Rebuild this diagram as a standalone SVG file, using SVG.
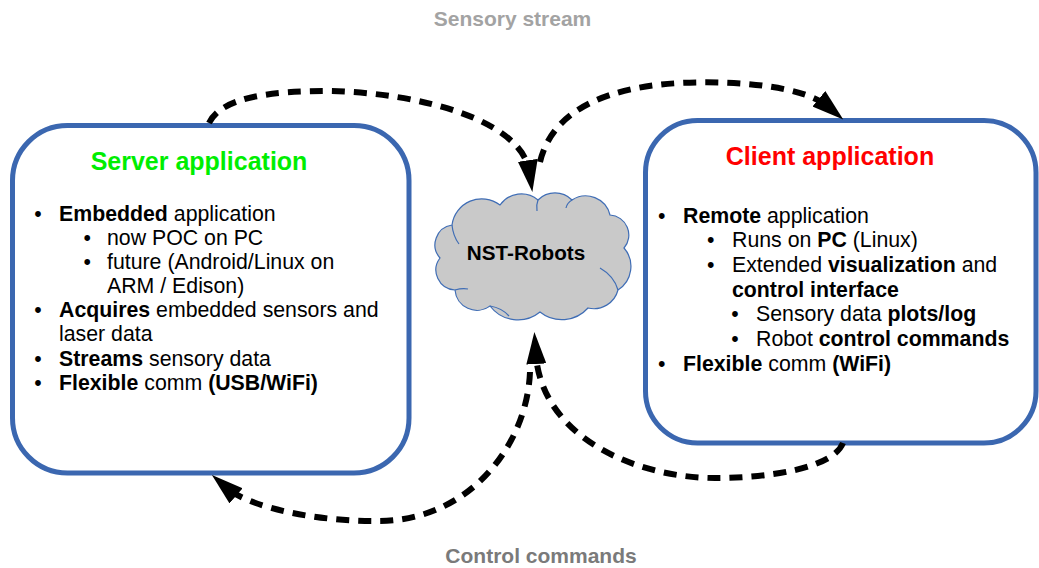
<svg xmlns="http://www.w3.org/2000/svg" width="1039" height="568" viewBox="0 0 1039 568">
<style>
  text { font-family: "Liberation Sans", Arial, sans-serif; }
  .box { fill: #ffffff; stroke: #3b67b0; stroke-width: 5; }
  .title { font-size: 25px; font-weight: bold; text-anchor: middle; }
  .body { font-size: 21.3px; fill: #000000; }
  .b { font-weight: bold; }
  .lbl { font-size: 21px; font-weight: bold; text-anchor: middle; }
  .flow { fill: none; stroke: #000000; stroke-width: 6; stroke-dasharray: 13 9; }
  .cloud { fill: #c9c9c9; stroke: #3f6db5; stroke-width: 1.2; }
  .cloudin { fill: none; stroke: #3f6db5; stroke-width: 1.2; }
</style>
<defs>
  <marker id="ah" markerUnits="userSpaceOnUse" markerWidth="32" markerHeight="20" refX="12" refY="10" orient="auto" viewBox="0 0 32 20">
    <path d="M0,0 L32,10 L0,20 Z" fill="#000000"/>
  </marker>
</defs>

<text class="lbl" x="512.5" y="26" fill="#a3a3a3">Sensory stream</text>
<text class="lbl" x="541" y="563" fill="#7a7a7a">Control commands</text>

<g id="server">
  <rect class="box" x="12.5" y="125.5" width="396.5" height="347.5" rx="55" ry="55"/>
  <text class="title" x="199" y="170" fill="#00ee00">Server application</text>
  <g class="body">
    <text x="34.3" y="220.7">•</text>
    <text x="59" y="220.7"><tspan class="b">Embedded</tspan> application</text>
    <text x="83.6" y="245">•</text>
    <text x="107" y="245">now POC on PC</text>
    <text x="83.6" y="269.3">•</text>
    <text x="107" y="269.3">future (Android/Linux on</text>
    <text x="107" y="293.3">ARM / Edison)</text>
    <text x="34.3" y="317.3">•</text>
    <text x="59" y="317.3"><tspan class="b">Acquires</tspan> embedded sensors and</text>
    <text x="59" y="341">laser data</text>
    <text x="34.3" y="365.7">•</text>
    <text x="59" y="365.7"><tspan class="b">Streams</tspan> sensory data</text>
    <text x="34.3" y="390">•</text>
    <text x="59" y="390"><tspan class="b">Flexible</tspan> comm <tspan class="b">(USB/WiFi)</tspan></text>
  </g>
</g>

<g id="client">
  <rect class="box" x="645.5" y="120.5" width="390.5" height="322.5" rx="52" ry="52"/>
  <text class="title" x="830" y="165" fill="#ff0000">Client application</text>
  <g class="body">
    <text x="658" y="223.3">•</text>
    <text x="683" y="223.3"><tspan class="b">Remote</tspan> application</text>
    <text x="707" y="246.7">•</text>
    <text x="732" y="246.7">Runs on <tspan class="b">PC</tspan> (Linux)</text>
    <text x="707" y="271.7">•</text>
    <text x="732" y="271.7">Extended <tspan class="b">visualization</tspan> and</text>
    <text x="732" y="296.7" class="b">control interface</text>
    <text x="731.3" y="321">•</text>
    <text x="756" y="321">Sensory data <tspan class="b">plots/log</tspan></text>
    <text x="731.3" y="346">•</text>
    <text x="756" y="346">Robot <tspan class="b">control commands</tspan></text>
    <text x="658" y="370.7">•</text>
    <text x="683" y="370.7"><tspan class="b">Flexible</tspan> comm <tspan class="b">(WiFi)</tspan></text>
  </g>
</g>

<g id="cloud">
  <path class="cloud" d="M452,225 A30,30 0 0 1 500,205 A26,26 0 0 1 538,200 A24,24 0 0 1 572,200 A25,25 0 0 1 610,215 A20,20 0 0 1 624,248 A28,28 0 0 1 618,290 A25,25 0 0 1 588,308 A35,35 0 0 1 540,312 A35,35 0 0 1 490,306 A22,22 0 0 1 455,290 A20,20 0 0 1 440,258 A20,20 0 0 1 452,225 Z"/>
  <path class="cloudin" d="M452,225 Q453,236 459,244"/>
  <path class="cloudin" d="M538,200 Q536,205 537,211"/>
  <path class="cloudin" d="M572,200 Q567,203 566,208"/>
  <path class="cloudin" d="M618,290 Q614,276 600,268"/>
  <path class="cloudin" d="M490,306 Q502,308 509,316"/>
  <path class="cloudin" d="M455,290 Q462,288 468,289"/>
  <text x="526" y="260" font-size="20.7" font-weight="bold" text-anchor="middle" fill="#000000">NST-Robots</text>
</g>

<g id="connectors">
  <path class="flow" marker-end="url(#ah)" d="M209,123 C222,97 270,91 330,91 C420,93 522,120 529.5,172.2"/>
  <path class="flow" marker-end="url(#ah)" d="M540,162 C550,120 590,88 680,83 C740,80 805,87 828,106.5"/>
  <path class="flow" marker-end="url(#ah)" d="M843,443 C833,468 770,478 715,478 C640,478 541,440 535.6,352"/>
  <path class="flow" marker-end="url(#ah)" d="M530,372 C527,445 470,520 380,521 C320,522 250,508 227,488"/>
</g>
</svg>
